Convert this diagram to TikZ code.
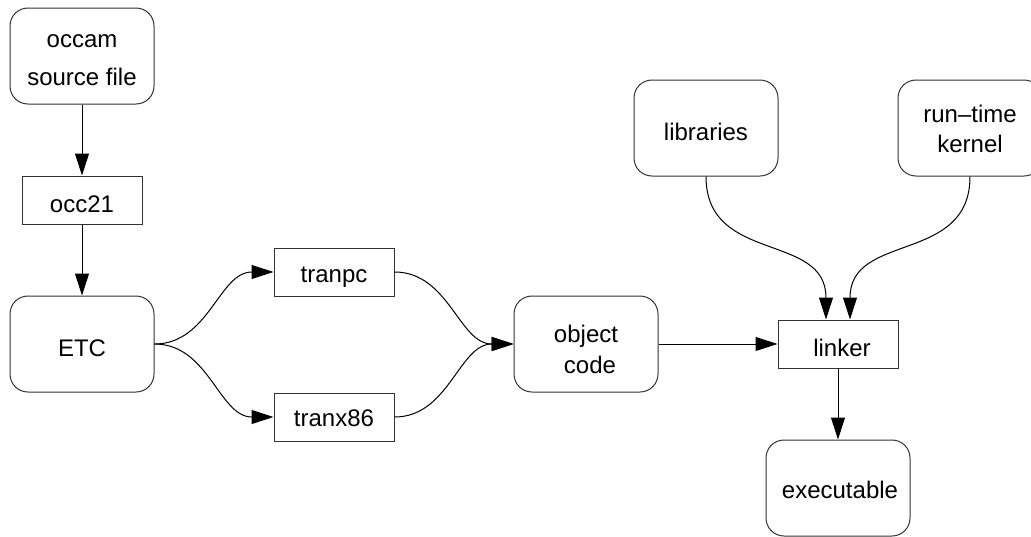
\documentclass[tikz,border=0pt]{standalone}
\usepackage{fontspec}
\setmainfont{Liberation Sans}
\usetikzlibrary{arrows.meta}
\begin{document}
\begin{tikzpicture}[x=1pt,y=-1pt,
  every node/.style={font=\fontsize{24}{29}\selectfont, inner sep=0pt},
  % one text line, placed by its baseline relative to the box centre
  line/.style args={#1 at #2/#3}{label={[text height=0pt,text depth=0pt,xshift=#2,yshift=#3]center:#1}},
  store/.style={draw=black!80, line width=1pt, rounded corners=18pt, minimum width=144pt, minimum height=96pt},
  tool/.style={draw=black!80, line width=1pt, minimum width=120pt, minimum height=48pt},
  flow/.style={line width=1pt, -{Triangle[length=22pt,width=14pt]}}]
  \useasboundingbox (0,0) rectangle (1031,536);
  \clip (0,0) rectangle (1031,536);

  % data files and tools
  \node[store, line={occam at 0pt/9pt}, line={source file at 0pt/-29pt}] (src) at (82,56) {};
  \node[tool, line={occ21 at 0pt/-12pt}] (occ) at (82,200) {};
  \node[store, line={ETC at 0pt/-12pt}] (etc) at (82,344) {};
  \node[tool, line={tranpc at 0pt/-10pt}] (tpc) at (334,272) {};
  \node[tool, line={tranx86 at 0pt/-9pt}] (tx86) at (334,417) {};
  \node[store, line={object at 0pt/2pt}, line={code at 4pt/-29pt}] (obj) at (586,344) {};
  \node[store, line={libraries at 0pt/-12pt}] (lib) at (706,128) {};
  \node[store, line={run\textendash time at 0pt/6pt}, line={kernel at 0pt/-24pt}] (rtk) at (970,128) {};
  \node[tool, line={linker at 4pt/-12pt}] (lnk) at (838,344) {};
  \node[store, line={executable at 2pt/-10pt}] (exe) at (838,488) {};

  % compilation flow
  \draw[flow] (src) -- (occ);
  \draw[flow] (occ) -- (etc);
  \draw[flow] (etc.east) to[out=0,in=180] (tpc.west);
  \draw[flow] (etc.east) to[out=0,in=180] (tx86.west);
  \draw[flow] (tpc.east) to[out=0,in=180] (obj.west);
  \draw[flow] (tx86.east) to[out=0,in=180] (obj.west);
  \draw[flow] (obj) -- (lnk);
  \draw[flow] (lib.south) to[out=-90,in=90,looseness=1.2] ([xshift=-12pt]lnk.north);
  \draw[flow] (rtk.south) to[out=-90,in=90,looseness=1.2] ([xshift=12pt]lnk.north);
  \draw[flow] (lnk) -- (exe);
\end{tikzpicture}
\end{document}
